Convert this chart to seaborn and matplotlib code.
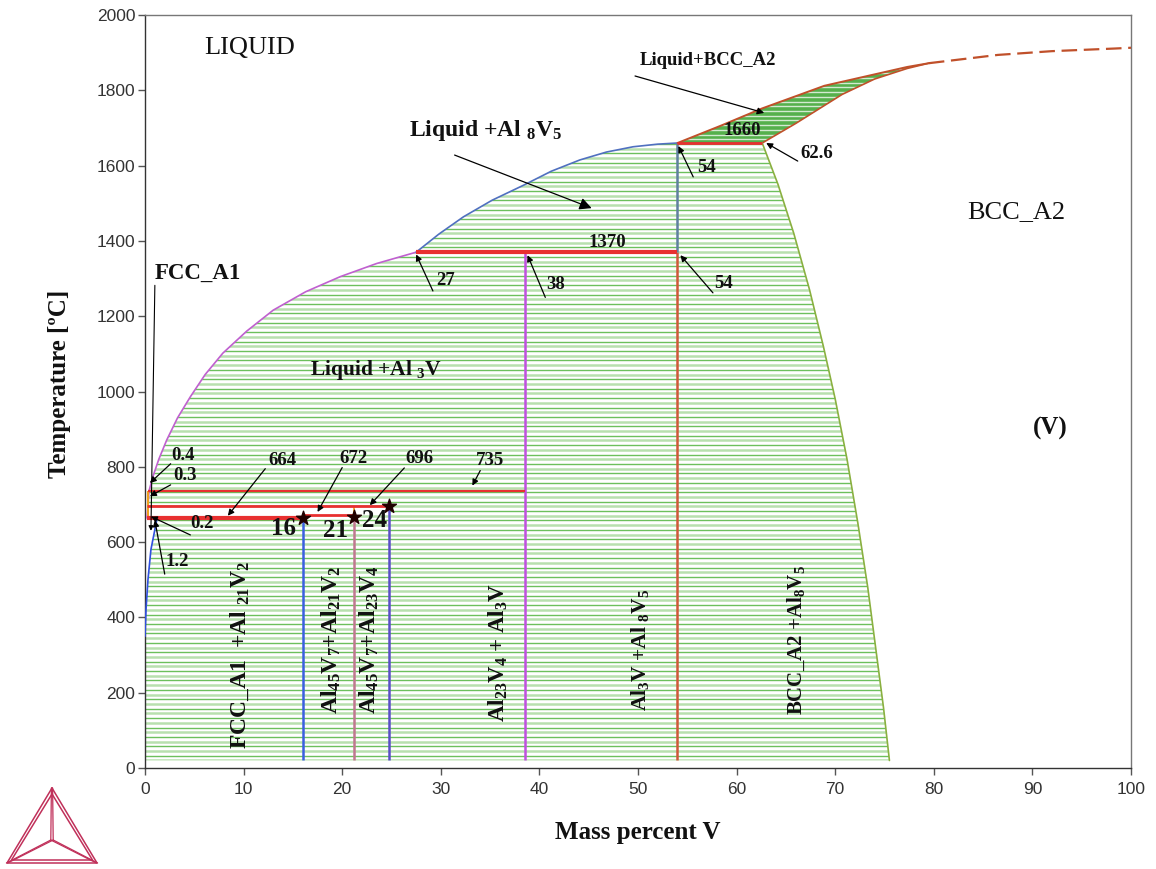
import numpy as np
import matplotlib
matplotlib.use("Agg")
import matplotlib.pyplot as plt
import seaborn as sns
from matplotlib.patches import Polygon

# ---------------- data ----------------
liq_purple_x = [0.2, 0.3, 0.4, 0.8, 1.4, 2.2, 3.3, 4.6, 6.1, 7.9, 10.3, 13.0, 16.3, 19.8, 23.5, 27.5]
liq_purple_T = [664, 696, 735, 774, 820, 871, 930, 986, 1045, 1102, 1160, 1216, 1265, 1305, 1340, 1370]
liq_blue_x = [27.5, 29.8, 32.3, 35.2, 38.4, 41.2, 44.1, 46.8, 49.5, 52.0, 54.0]
liq_blue_T = [1370, 1418, 1464, 1508, 1548, 1585, 1615, 1636, 1650, 1657, 1660]
liq_bcc_x = [54.0, 58.4, 62.6, 68.9, 77.3, 79.5, 86.5, 92.0, 98.4, 100.0]
liq_bcc_T = [1660, 1706, 1752, 1812, 1862, 1872, 1894, 1904, 1911, 1913]
sol_bcc_x = [62.6, 66.0, 70.7, 74.0, 77.3, 79.5]
sol_bcc_T = [1660, 1712, 1789, 1830, 1858, 1872]
solv_bcc_x = [62.6, 64.2, 65.8, 67.4, 68.8, 70.0, 71.2, 72.3, 73.3, 74.1, 74.9, 75.5]
solv_bcc_T = [1660, 1550, 1420, 1270, 1120, 980, 820, 650, 480, 320, 160, 20]
fcc_x = [0.0, 0.1, 0.3, 0.6, 1.2]
fcc_T = [350, 420, 500, 580, 660]

comp_x = [16.0, 21.2, 24.7, 38.5, 54.0]
comp_top = [664, 672, 696, 1370, 1370]
comp_colors = ["#3a5fe0", "#c07890", "#5a4ec8", "#c050e0", "#d0583a"]

inv_T = [664, 672, 696, 735, 1370, 1660]
inv_x0 = [0.2, 16.0, 0.2, 0.3, 27.5, 54.0]
inv_x1 = [16.0, 21.2, 24.7, 38.5, 54.0, 62.6]
inv_lw = [3.0, 2.0, 2.0, 1.6, 3.0, 2.0]

star_x = [16.0, 21.2, 24.7]
star_T = [664, 667, 696]

x_ticks = list(range(0, 101, 10))
y_ticks = list(range(0, 2001, 200))

# ---------------- style ----------------
sns.set_theme(style="ticks")
plt.rcParams["font.family"] = ["Liberation Sans", "DejaVu Sans"]
plt.rcParams["mathtext.fontset"] = "custom"
plt.rcParams["mathtext.rm"] = "Liberation Serif:bold"
plt.rcParams["mathtext.it"] = "Liberation Serif:bold"
plt.rcParams["mathtext.bf"] = "Liberation Serif:bold"
plt.rcParams["mathtext.default"] = "rm"
SERIF = ["Liberation Serif", "DejaVu Serif"]

fig = plt.figure(figsize=(11.56, 8.69), dpi=100)
ax = fig.add_axes([145 / 1156, 101 / 869, 986 / 1156, 753 / 869])
ax.set_xlim(0, 100)
ax.set_ylim(0, 2000)

# ---------------- hatched two-phase area ----------------
pr_x = liq_purple_x[::-1][:-1]
pr_T = liq_purple_T[::-1][:-1]
hx = ([0.0, 75.5] + solv_bcc_x[::-1][1:] + [54.0] + liq_blue_x[::-1][1:] + pr_x[1:]
      + [24.7, 24.7, 21.2, 21.2, 0.2] + fcc_x[::-1] + [0.0])
hT = ([20, 20] + solv_bcc_T[::-1][1:] + [1660] + liq_blue_T[::-1][1:] + pr_T[1:]
      + [696, 672, 672, 664, 664] + fcc_T[::-1] + [20])
hatch_poly = Polygon(np.column_stack([hx, hT]), closed=True, transform=ax.transData,
                     facecolor="none", edgecolor="none")
ax.add_patch(hatch_poly)
levels = np.arange(20, 1900, 12.5)
cols = ["#b8e0ae" if i % 2 == 0 else "#6cc05c" for i in range(len(levels))]
lws = [1.8 if i % 2 == 0 else 1.0 for i in range(len(levels))]
lc = ax.hlines(levels, 0, 100, colors=cols, linewidths=lws, zorder=1)
lc.set_clip_path(hatch_poly)

# ---------------- Liquid + BCC_A2 region ----------------
xs = np.linspace(54.0, 79.5, 200)
up = np.interp(xs, liq_bcc_x, liq_bcc_T)
lo = np.interp(xs, sol_bcc_x, sol_bcc_T)
lb_poly = Polygon(np.column_stack([np.r_[xs, xs[::-1]], np.r_[up, lo[::-1]]]), closed=True,
                  transform=ax.transData, facecolor="#55b04c", edgecolor="none", zorder=1)
ax.add_patch(lb_poly)
lc2 = ax.hlines(levels, 50, 100, colors="white", linewidths=1.0, alpha=0.75, zorder=1.5)
lc2.set_clip_path(lb_poly)

# ---------------- phase boundaries ----------------
def line(x, y, color, lw=1.2, ls="-"):
    sns.lineplot(x=x, y=y, ax=ax, color=color, linewidth=lw, linestyle=ls,
                 sort=False, estimator=None, zorder=3)

line(liq_purple_x, liq_purple_T, "#c060d0")
line(liq_blue_x, liq_blue_T, "#5070c0")
line(liq_bcc_x[:6], liq_bcc_T[:6], "#c0502a", 1.4)
line(liq_bcc_x[5:], liq_bcc_T[5:], "#c0502a", 1.6, (0, (7, 3)))
line(sol_bcc_x, sol_bcc_T, "#c0502a", 1.2)
line(solv_bcc_x, solv_bcc_T, "#8ab040", 1.2)
line(fcc_x, fcc_T, "#3050e0", 1.2)

for cx, ct, cc in zip(comp_x, comp_top, comp_colors):
    ax.vlines(cx, 20, ct, colors=cc, linewidth=1.8, zorder=3)
ax.vlines(comp_x[-1], comp_top[-1], inv_T[-1], colors="#6080a0", linewidth=1.8, zorder=3)
ax.vlines(0.3, 664, 735, colors="#f0a020", linewidth=1.5, zorder=3)
ax.vlines(21.2, 664, 696, colors="#f0a020", linewidth=1.2, zorder=2.5)

for t, a, b, w in zip(inv_T, inv_x0, inv_x1, inv_lw):
    ax.hlines(t, a, b, colors="#e83030", linewidth=w, zorder=4)

ax.scatter(star_x, star_T, marker="*", s=110, color="#200000", zorder=6)

# ---------------- texts ----------------
def txt(x, y, s, size=12, rot=0, weight="bold", ha="center", va="center"):
    ax.text(x, y, s, fontsize=size, rotation=rot, fontweight=weight, family=SERIF,
            ha=ha, va=va, zorder=7, color="#111111")

def arrow(xy, xytext, ms=9):
    ax.annotate("", xy=xy, xytext=xytext,
                arrowprops=dict(arrowstyle="-|>", color="black", lw=0.9,
                                mutation_scale=ms, shrinkA=0, shrinkB=0), zorder=7)

NUM = 13.5
txt(10.65, 1912, "LIQUID", 19, weight="normal")
txt(88.4, 1477, "BCC_A2", 19, weight="normal")
txt(91.8, 903, "(V)", 18)
txt(34.5, 1692, r"Liquid +Al $_8$V$_5$", 17)
arrow((45.3, 1487), (31.4, 1628), 18)
txt(57.1, 1880, "Liquid+BCC_A2", 13.5)
arrow((62.8, 1740), (49.7, 1838), 10)
txt(60.6, 1692, "1660", NUM)
txt(68.1, 1631, "62.6", NUM)
arrow((63.0, 1660), (66.2, 1612))
txt(57.0, 1594, "54", NUM)
arrow((54.1, 1652), (55.6, 1570))
txt(46.9, 1397, "1370", NUM)
txt(58.7, 1288, "54", NUM)
arrow((54.3, 1362), (57.6, 1262))
txt(30.5, 1296, "27", NUM)
arrow((27.5, 1364), (29.2, 1267))
txt(41.6, 1283, "38", NUM)
arrow((38.8, 1362), (40.6, 1250))
txt(1.0, 1315, "FCC_A1", 16.5, ha="left")
ax.annotate("", xy=(0.6, 630), xytext=(1.0, 1282),
            arrowprops=dict(arrowstyle="-|>", color="black", lw=0.8, mutation_scale=7,
                            shrinkA=0, shrinkB=0), zorder=7)
txt(23.4, 1057, r"Liquid +Al $_3$V", 15.5)
txt(3.9, 829, "0.4", NUM)
arrow((0.5, 757), (2.6, 808))
txt(4.1, 776, "0.3", NUM)
arrow((0.5, 722), (2.6, 752))
txt(13.9, 818, "664", NUM)
arrow((8.4, 670), (12.2, 795))
txt(21.1, 823, "672", NUM)
arrow((17.5, 680), (20.0, 798))
txt(27.8, 823, "696", NUM)
arrow((22.8, 698), (26.3, 797))
txt(35.0, 818, "735", NUM)
arrow((33.2, 750), (34.0, 790))
txt(5.8, 650, "0.2", NUM)
arrow((0.6, 668), (4.6, 619))
txt(3.3, 548, "1.2", NUM)
arrow((1.0, 658), (2.0, 515))
txt(14.0, 637, "16", 18)
txt(19.3, 630, "21", 18)
txt(23.3, 657, "24", 18)

txt(9.6, 300, r"FCC_A1  +Al $_{21}$V$_2$", 17, rot=90)
txt(18.9, 340, r"Al$_{45}$V$_7$+Al$_{21}$V$_2$", 17, rot=90)
txt(22.8, 340, r"Al$_{45}$V$_7$+Al$_{23}$V$_4$", 17, rot=90)
txt(35.8, 308, r"Al$_{23}$V$_4$ + Al$_3$V", 16.5, rot=90)
txt(50.2, 313, r"Al$_3$V +Al $_8$V$_5$", 15.5, rot=90)
txt(66.1, 340, r"BCC_A2 +Al$_8$V$_5$", 15, rot=90)

# ---------------- axes ----------------
ax.set_xticks(x_ticks)
ax.set_yticks(y_ticks)
ax.tick_params(axis="both", direction="out", length=5, width=1, color="#555555",
               labelsize=12.5, labelcolor="#333333")
ax.tick_params(axis="y", pad=2)
ax.tick_params(axis="x", pad=5)
for sp in ax.spines.values():
    sp.set_color("#777777")
    sp.set_linewidth(1.0)
ax.spines["left"].set_color("#333333")
ax.spines["bottom"].set_color("#333333")
ax.set_xlabel("Mass percent V", family=SERIF, fontweight="bold", fontsize=18, color="#111111")
ax.set_ylabel("Temperature [ºC]", family=SERIF, fontweight="bold", fontsize=18, color="#111111")
ax.xaxis.set_label_coords(0.5, -0.07)
ax.yaxis.set_label_coords(-0.075, 0.51)

# ---------------- logo (decoration) ----------------
lax = fig.add_axes([0, 0, 110 / 1156, 90 / 869])
lax.set_xlim(0, 110)
lax.set_ylim(90, 0)
lax.axis("off")
lc_col = "#c0305a"
for off in (0, 3):
    lax.plot([52, 7 + off * 1.5, 97 - off * 1.5, 52], [9 + off * 2, 84 - off, 84 - off, 9 + off * 2],
             color=lc_col, lw=1.1)
for (px, py) in [(52, 9), (7, 84), (97, 84)]:
    for d in (-1.2, 1.2):
        lax.plot([52 + d, px + d * 0.5], [61, py], color=lc_col, lw=0.9)

fig.savefig("out.png", dpi=100)
